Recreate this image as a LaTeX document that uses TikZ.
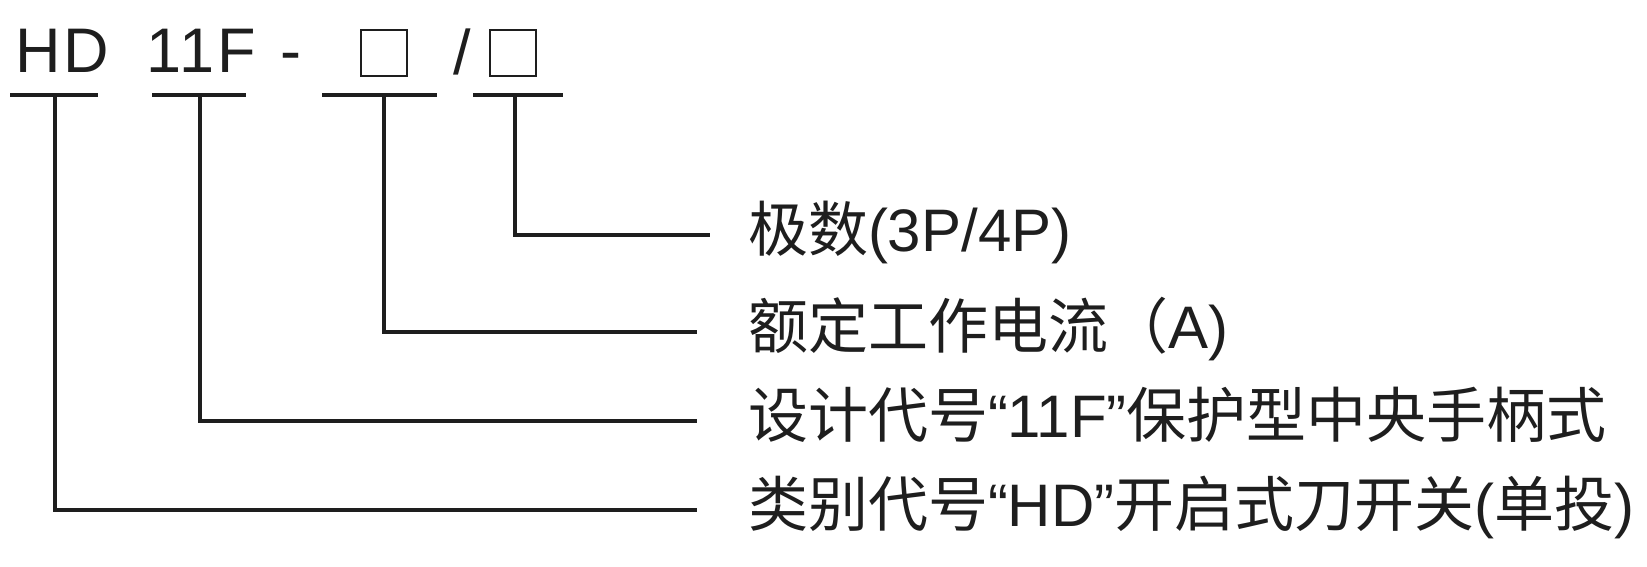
\documentclass[tikz,border=0pt]{standalone}
\usepackage{fontspec}
\setmainfont{Liberation Sans}
\newfontfamily\cjk{Noto Sans CJK SC}
\newfontfamily\topfont{Liberation Sans}[LetterSpace=5]
\definecolor{ink}{RGB}{30,30,30}
\begin{document}
\begin{tikzpicture}[x=1pt,y=-1pt,
  conn/.style={draw=ink,line width=4.3pt},
  top/.style={inner sep=0pt,outer sep=0pt,anchor=base west,text=ink,font=\topfont\fontsize{63}{70}\selectfont},
  ph/.style={draw=ink,line width=2.7pt,minimum width=46pt,minimum height=46pt,inner sep=0pt,outer sep=0pt},
  lab/.style={inner sep=0pt,outer sep=0pt,anchor=base west,text=ink,font=\fontsize{60}{70}\selectfont}]
\useasboundingbox (0,0) rectangle (1647,566);
% top code
\node[top] (hd) at (15,72) {HD};
\node[top] (elf) at (146,72) {11F};
\node[top] (dash) at (280,72) {-};
\node[ph] (b1) at (384,53) {};
\node[top] (sl) at (453,74) {/};
\node[ph] (b2) at (513,53) {};
% underlines
\coordinate (u1l) at (10,95);  \coordinate (u1r) at (98,95);  \coordinate (u1m) at (55,95);
\coordinate (u2l) at (152,95); \coordinate (u2r) at (246,95); \coordinate (u2m) at (200,95);
\coordinate (u3l) at (322,95); \coordinate (u3r) at (437,95); \coordinate (u3m) at (384,95);
\coordinate (u4l) at (473,95); \coordinate (u4r) at (563,95); \coordinate (u4m) at (515,95);
\draw[conn] (u1l) -- (u1r);
\draw[conn] (u2l) -- (u2r);
\draw[conn] (u3l) -- (u3r);
\draw[conn] (u4l) -- (u4r);
% labels
\node[lab] (l4) at (748,251) {{\cjk 极数}(3P/4P)};
\node[lab] (l3) at (748,348) {{\cjk 额定工作电流（}A)};
\node[lab] (l2) at (748,437) {{\cjk 设计代号}“11F”{\cjk 保护型中央手柄式}};
\node[lab] (l1) at (748,526) {{\cjk 类别代号}“HD”{\cjk 开启式刀开关}({\cjk 单投})};
% ends
\coordinate (e4) at (710,235);
\coordinate (e3) at (697,332);
\coordinate (e2) at (697,421);
\coordinate (e1) at (697,510);
\draw[conn] (u4m) |- (e4);
\draw[conn] (u3m) |- (e3);
\draw[conn] (u2m) |- (e2);
\draw[conn] (u1m) |- (e1);
\end{tikzpicture}
\end{document}
